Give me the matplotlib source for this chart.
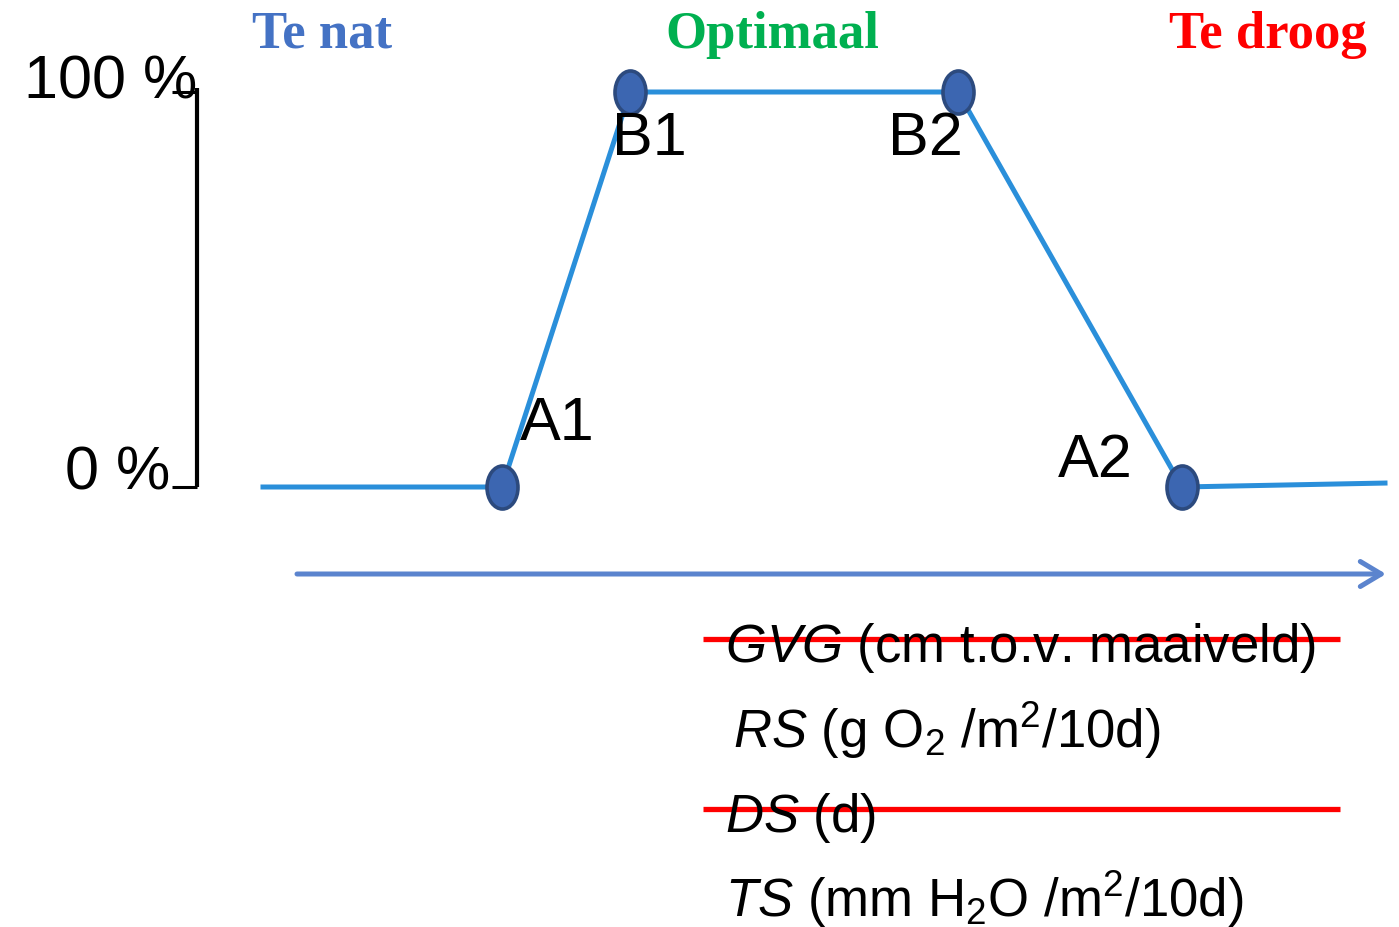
import matplotlib.pyplot as plt
from matplotlib.path import Path
from matplotlib.transforms import Affine2D

plt.rcParams['font.family'] = ['Liberation Sans', 'DejaVu Sans']
plt.rcParams['mathtext.fontset'] = 'custom'
plt.rcParams['mathtext.rm'] = 'Liberation Sans'
plt.rcParams['mathtext.it'] = 'Liberation Sans:italic'

# response curve: position along the gradient and relative response (%)
curve_x = [263, 502, 630, 958, 1182, 1385]
curve_y = [0, 0, 100, 100, 0, 1]
point_x = [502, 630, 958, 1182]
point_y = [0, 100, 100, 0]
point_names = ['A1', 'B1', 'B2', 'A2']
y_ticks = [0, 100]
y_tick_labels = ['0 %', '100 %']
zones = ['Te nat', 'Optimaal', 'Te droog']
zone_colors = ['#4472C4', '#00B050', '#FF0000']
variables = [r'$\it{GVG}$ (cm t.o.v. maaiveld)',
             r'$\it{RS}$ (g O$_2$ /m$^2$/10d)',
             r'$\it{DS}$ (d)',
             r'$\it{TS}$ (mm H$_2$O /m$^2$/10d)']
struck = [True, False, True, False]

W, H = 1399, 928
fig = plt.figure(figsize=(W / 100, H / 100), dpi=100)
ax = fig.add_axes([0, 0, 1, 1])
# 0 % sits at pixel row 488, 100 % at row 93
scale = (488 - 93) / 100
ax.set_xlim(0, W)
ax.set_ylim((488 - H) / scale, 488 / scale)
ax.axis('off')


def fx(px):
    return px / W


def fy(py):
    return 1 - py / H


# y axis with ticks
ax.plot([197, 197], [0, 101], color='black', lw=3, solid_capstyle='butt')
for t in y_ticks:
    ax.plot([172, 197], [t, t], color='black', lw=2.2, solid_capstyle='butt')
label_pos = [(170, 474), (197, 83)]
for lab, (lx, ly) in zip(y_tick_labels, label_pos):
    fig.text(fx(lx), fy(ly), lab, fontsize=44, ha='right', va='center')

# gradient arrow
arrow_y = (488 - 575) / scale
ax.annotate('', xy=(1386, arrow_y), xytext=(297, arrow_y),
            arrowprops=dict(arrowstyle='->,head_length=0.75,head_width=0.45',
                            color='#5B84CE', lw=3.6, mutation_scale=20,
                            shrinkA=0, shrinkB=0))

# response curve and the four breakpoints
ax.plot(curve_x, curve_y, color='#2A8FDA', lw=3.6, zorder=3)
ellipse = Path.unit_circle().transformed(Affine2D().scale(0.72, 1))
ax.plot(point_x, point_y, ls='none', marker=ellipse, markersize=31,
        markerfacecolor='#3C66B1', markeredgecolor='#2C4A7E',
        markeredgewidth=2.6, zorder=4)

name_pos = [(520, 440), (612, 155), (888, 155), (1058, 477)]
for name, (nx, ny) in zip(point_names, name_pos):
    fig.text(fx(nx), fy(ny), name, fontsize=44, ha='left', va='baseline',
             zorder=5)

# zone headers
zone_x = [322, 772, 1268]
for z, c, zx in zip(zones, zone_colors, zone_x):
    fig.text(fx(zx), fy(48), z, fontsize=38, ha='center', va='baseline',
             color=c, family='Liberation Serif', weight='bold')

# environmental variables below the axis
var_pos = [(725, 662), (733, 748), (725, 832), (725, 917)]
for v, s, (vx, vy) in zip(variables, struck, var_pos):
    fig.text(fx(vx), fy(vy), v, fontsize=38, ha='left', va='baseline')
    if s:
        line_y = (488 - (vy - 22)) / scale
        ax.plot([703, 1340], [line_y, line_y], color='#FF0000', lw=3.8,
                solid_capstyle='butt', zorder=6)

fig.savefig('out.png', dpi=100)
